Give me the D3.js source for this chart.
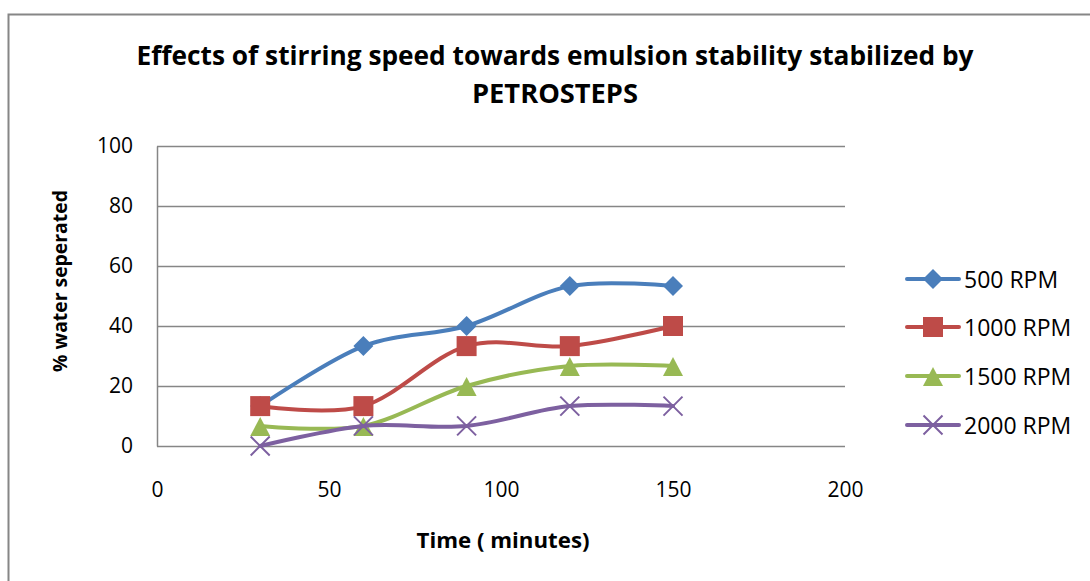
<!DOCTYPE html>
<html>
<head>
<meta charset="utf-8">
<script src="https://cdn.jsdelivr.net/npm/d3@7/dist/d3.min.js"></script>
<style>
  html, body { margin: 0; padding: 0; background: #fff; }
  svg { display: block; font-family: "Open Sans", Calibri, sans-serif; }
</style>
</head>
<body>
<svg id="chart" width="1090" height="581"></svg>
<script>
// Sampling times (minutes)
const times = [30, 60, 90, 120, 150];

// % water separated per stirring speed
const rpm500  = [13.3, 33.3, 40, 53.3, 53.3];
const rpm1000 = [13.3, 13.3, 33.3, 33.3, 40];
const rpm1500 = [6.7, 6.7, 20, 26.7, 26.7];
const rpm2000 = [0, 6.7, 6.7, 13.3, 13.3];

const seriesNames = ["500 RPM", "1000 RPM", "1500 RPM", "2000 RPM"];
const xTicks = [0, 50, 100, 150, 200];
const yTicks = [0, 20, 40, 60, 80, 100];

const titleLines = ["Effects of stirring speed towards emulsion stability stabilized by", "PETROSTEPS"];
const xTitle = "Time ( minutes)";
const yTitle = "% water seperated";

const series = [
  { name: seriesNames[0], values: rpm500,  color: "#4a7ebb", marker: "diamond" },
  { name: seriesNames[1], values: rpm1000, color: "#be4b48", marker: "square" },
  { name: seriesNames[2], values: rpm1500, color: "#98b954", marker: "triangle" },
  { name: seriesNames[3], values: rpm2000, color: "#7d60a0", marker: "cross" }
];

const svg = d3.select("#chart");
const grid = "#868686";

// scale a text node's font size so that it spans the given width
function fitWidth(sel, width) {
  const node = sel.node();
  const fs = parseFloat(sel.attr("font-size"));
  const w = node.getComputedTextLength();
  if (w > 0) sel.attr("font-size", (fs * width / w).toFixed(2));
  return sel;
}

// outer chart frame
svg.append("rect")
  .attr("x", 8.5).attr("y", 14.5).attr("width", 1100).attr("height", 600)
  .attr("fill", "none").attr("stroke", grid).attr("stroke-width", 2);

const x = d3.scaleLinear().domain([0, 200]).range([157, 845]);
const y = d3.scaleLinear().domain([0, 100]).range([446, 146]);

// gridlines
svg.append("g").selectAll("line").data(yTicks).join("line")
  .attr("x1", x(0)).attr("x2", x(200))
  .attr("y1", d => Math.round(y(d)) + 0.5).attr("y2", d => Math.round(y(d)) + 0.5)
  .attr("stroke", grid).attr("stroke-width", 1.5);

// axes without tick marks
const yAxis = svg.append("g").attr("transform", `translate(${x(0)},0)`)
  .call(d3.axisLeft(y).tickValues(yTicks).tickSize(0).tickPadding(24));
yAxis.attr("font-family", null).attr("font-size", null);
yAxis.select(".domain").attr("stroke", grid).attr("stroke-width", 1.5);
yAxis.selectAll("text").attr("font-size", 21).attr("fill", "#000");

const xAxis = svg.append("g").attr("transform", `translate(0,${y(0)})`)
  .call(d3.axisBottom(x).tickValues(xTicks).tickSize(0).tickPadding(36));
xAxis.attr("font-family", null).attr("font-size", null);
xAxis.select(".domain").remove();
xAxis.selectAll("text").attr("font-size", 21).attr("fill", "#000");

// titles
const tl = svg.append("g").selectAll("text").data(titleLines).join("text")
  .attr("x", 555).attr("y", (d, i) => 65 + i * 38)
  .attr("text-anchor", "middle").attr("font-size", 24).attr("font-weight", "bold")
  .text(d => d);
fitWidth(d3.select(tl.nodes()[0]), 837);
fitWidth(d3.select(tl.nodes()[1]), 166);

fitWidth(svg.append("text")
  .attr("x", 503).attr("y", 548)
  .attr("text-anchor", "middle").attr("font-size", 20).attr("font-weight", "bold")
  .text(xTitle), 173);

fitWidth(svg.append("text")
  .attr("transform", "translate(67,281) rotate(-90)")
  .attr("text-anchor", "middle").attr("font-size", 20).attr("font-weight", "bold")
  .text(yTitle), 182);

// marker shapes
function drawMarker(g, type, color) {
  if (type === "diamond") {
    g.append("path").attr("d", "M0,-10L10,0L0,10L-10,0Z").attr("fill", color);
  } else if (type === "square") {
    g.append("rect").attr("x", -10).attr("y", -10).attr("width", 20).attr("height", 20).attr("fill", color);
  } else if (type === "triangle") {
    g.append("path").attr("d", "M0,-9L10,10L-10,10Z").attr("fill", color);
  } else {
    g.append("path").attr("d", "M-9.5,-9.5L9.5,9.5M-9.5,9.5L9.5,-9.5").attr("stroke", color).attr("stroke-width", 2).attr("fill", "none");
  }
}

const line = d3.line()
  .x((d, i) => x(times[i]))
  .y(d => y(d))
  .curve(d3.curveCardinal.tension(0));

series.forEach(s => {
  svg.append("path").datum(s.values)
    .attr("d", line)
    .attr("fill", "none").attr("stroke", s.color).attr("stroke-width", 4)
    .attr("stroke-linecap", "round");
  s.values.forEach((v, i) => {
    const g = svg.append("g").attr("transform", `translate(${x(times[i])},${y(v)})`);
    drawMarker(g, s.marker, s.color);
  });
});

// legend
const legendY = [279, 327, 376, 425];
series.forEach((s, i) => {
  const g = svg.append("g").attr("transform", `translate(0,${legendY[i]})`);
  g.append("line").attr("x1", 907).attr("x2", 959).attr("y1", 0).attr("y2", 0)
    .attr("stroke", s.color).attr("stroke-width", 4).attr("stroke-linecap", "round");
  const mg = g.append("g").attr("transform", "translate(933,0)");
  drawMarker(mg, s.marker, s.color);
  g.append("text").attr("x", 964).attr("y", 9).attr("font-size", 23).text(s.name);
});
</script>
</body>
</html>
